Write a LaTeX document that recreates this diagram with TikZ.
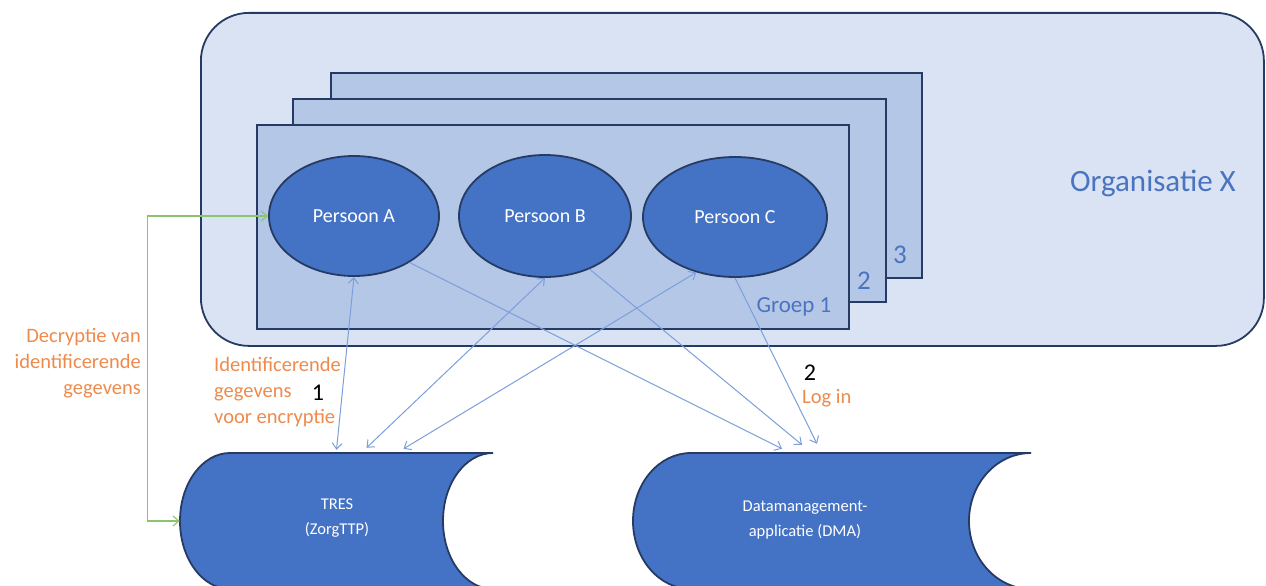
\documentclass[tikz,border=0pt]{standalone}
\usepackage{fontspec}
\setmainfont{Carlito}
\usetikzlibrary{arrows.meta,shapes.geometric}

\definecolor{orgfill}{HTML}{DAE3F3}
\definecolor{grpfill}{HTML}{B4C7E7}
\definecolor{edge}{HTML}{263B63}
\definecolor{nodeblue}{HTML}{4472C4}
\definecolor{linkblue}{HTML}{7C9FDB}
\definecolor{linkgreen}{HTML}{8CC46C}
\definecolor{noteorange}{HTML}{EE8B4C}
\definecolor{textblue}{HTML}{4A74C0}

\begin{document}
\begin{tikzpicture}[x=1pt,y=-1pt,
  >={Straight Barb[length=6pt,width=10pt]},
  box/.style={draw=edge, line width=1.8pt, inner sep=0pt, anchor=north west},
  orgbox/.style={box, fill=orgfill, rounded corners=48pt},
  grpbox/.style={box, fill=grpfill},
  person/.style={ellipse, draw=edge, line width=1.8pt, fill=nodeblue,
    text=white, font=\fontsize{20}{24}\selectfont, inner sep=0pt},
  store/.style={fill=nodeblue, draw=edge, line width=1.8pt},
  anchorbox/.style={inner sep=0pt},
  storetext/.style={text=white, align=center, font=\fontsize{16.5}{25}\selectfont},
  link/.style={draw=linkblue, line width=1pt},
  greenlink/.style={draw=linkgreen, line width=1.1pt},
  note/.style={text=noteorange, font=\fontsize{20.5}{26}\selectfont, inner sep=0pt},
  step number/.style={text=black, font=\fontsize{24}{28}\selectfont, inner sep=0pt},
  bluetext/.style={text=textblue, inner sep=0pt}
]
\useasboundingbox[fill=white] (0,0) rectangle (1266,586);

% organisation frame
\node[orgbox, minimum width=1063pt, minimum height=333pt] (org) at (200,12) {};
\node[bluetext, font=\fontsize{31}{36}\selectfont] (orgname) at (1153,183) {Organisatie X};

% stacked groups
\node[grpbox, minimum width=591pt, minimum height=205pt] (g3) at (330,72) {};
\node[grpbox, minimum width=593pt, minimum height=203pt] (g2) at (292,98) {};
\node[grpbox, minimum width=592pt, minimum height=204pt] (g1) at (256,124) {};
\node[bluetext, font=\fontsize{27}{30}\selectfont] (g3name) at (900,255) {3};
\node[bluetext, font=\fontsize{27}{30}\selectfont] (g2name) at (864,281) {2};
\node[bluetext, font=\fontsize{23}{26}\selectfont] (g1name) at (794,307) {Groep 1};

% persons
\node[person, minimum width=170pt, minimum height=120pt] (pa) at (354,216) {Persoon A};
\node[person, minimum width=172pt, minimum height=122pt] (pb) at (545,216) {Persoon B};
\node[person, minimum width=184pt, minimum height=120pt] (pc) at (735,217) {Persoon C};

% stored-data shapes
\node[anchorbox, minimum width=313pt, minimum height=136pt] (tres) at (336.5,521) {};
\draw[store] (230,453) -- (493,453)
  .. controls (465.4,453) and (443,483.4) .. (443,521)
  .. controls (443,558.6) and (465.4,589) .. (493,589)
  -- (230,589)
  .. controls (202.4,589) and (180,558.6) .. (180,521)
  .. controls (180,483.4) and (202.4,453) .. (230,453) -- cycle;
\node[storetext] (trestext) at (337,518) {TRES\\(ZorgTTP)};

\node[anchorbox, minimum width=398pt, minimum height=136pt] (dma) at (832,521) {};
\draw[store] (691,453) -- (1031,453)
  .. controls (996.8,453) and (969,483.4) .. (969,521)
  .. controls (969,558.6) and (996.8,589) .. (1031,589)
  -- (691,589)
  .. controls (659,589) and (633,558.6) .. (633,521)
  .. controls (633,483.4) and (659,453) .. (691,453) -- cycle;
\node[storetext] (dmatext) at (805,520) {Datamanagement-\\applicatie (DMA)};

% connections to TRES
\draw[link, <->] (pa.south) -- ([yshift=3pt]tres.north);
\draw[link, <->] (pb.south) -- ([xshift=30pt,yshift=5pt]tres.north);
\draw[link, <->] (pc.-125) -- ([xshift=67pt,yshift=4pt]tres.north);

% log-in connections to the DMA
\draw[link, ->] (pa.-40) -- ([xshift=-50pt,yshift=4pt]dma.north);
\draw[link, ->] (pb.-50) -- ([xshift=-30pt,yshift=8pt]dma.north);
\draw[link, ->] (pc.south) -- ([xshift=-15pt,yshift=9pt]dma.north);

% decryption path
\draw[greenlink, <->] (pa.west) -- ++(-121,0) |- (tres.west);

% annotations
\node[note, anchor=east, align=right] (declbl) at (141,363)
  {Decryptie van\\identificerende\\gegevens};
\node[note, anchor=west, align=left] (enclbl) at (214,392)
  {Identificerende\\gegevens\\voor encryptie};
\node[step number] (stepone) at (318,393) {1};
\node[step number] (steptwo) at (810,373) {2};
\node[note, anchor=west] (login) at (802,398) {Log in};
\end{tikzpicture}
\end{document}
